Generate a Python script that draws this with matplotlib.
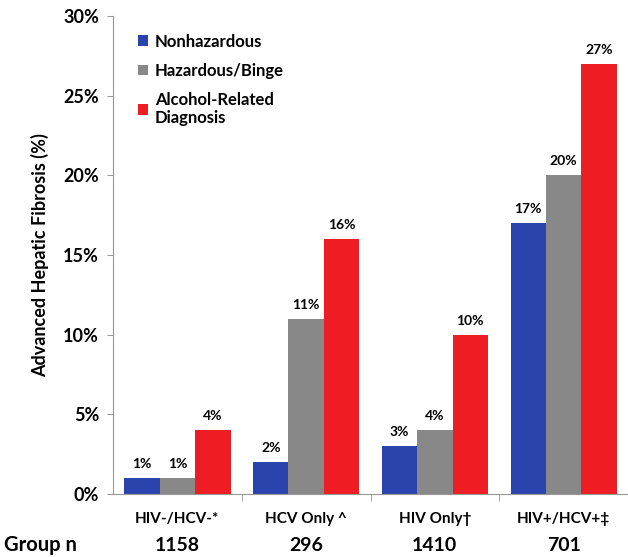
import matplotlib.pyplot as plt
import numpy as np

groups = ['HIV-/HCV-*', 'HCV Only ^', 'HIV Only\u2020', 'HIV+/HCV+\u2021']
group_n = ['1158', '296', '1410', '701']
series = ['Nonhazardous', 'Hazardous/Binge', 'Alcohol-Related\nDiagnosis']
nonhazardous = [1, 2, 3, 17]
hazardous = [1, 11, 4, 20]
alcohol_dx = [4, 16, 10, 27]
colors = ['#2b44ad', '#888888', '#ee1d24']

plt.rcParams['font.family'] = ['Lato', 'DejaVu Sans']
plt.rcParams['font.weight'] = 'bold'

fig = plt.figure(figsize=(6.28, 5.57), dpi=100)
ax = fig.add_axes([0.180, 0.113, 0.820, 0.858])

x = np.arange(len(groups))
w = 0.275
for i, (vals, name) in enumerate(zip([nonhazardous, hazardous, alcohol_dx], series)):
    bars = ax.bar(x + (i - 1) * w, vals, w, color=colors[i], label=name)
    for b, v in zip(bars, vals):
        ax.text(b.get_x() + b.get_width() / 2, v + 0.5, f'{v}%',
                ha='center', va='bottom', fontsize=10, fontweight='bold')

ax.set_xlim(-0.5, len(groups) - 0.5)
ax.set_ylim(0, 30)
ax.set_yticks(range(0, 31, 5))
ax.set_yticklabels([f'{t}%' for t in range(0, 31, 5)], fontsize=13, fontweight='bold')
ax.set_xticks(x)
ax.set_xticklabels(groups, fontsize=11, fontweight='bold')
ax.tick_params(axis='x', length=0, pad=13)
ax.set_xticks(np.arange(0.5, len(groups) - 0.5), minor=True)
ax.tick_params(axis='x', which='minor', length=5, color='#999999')
ax.tick_params(axis='y', length=4, color='#999999', pad=6)
for s in ['top', 'right']:
    ax.spines[s].set_visible(False)
ax.spines['left'].set_color('#999999')
ax.spines['bottom'].set_color('#999999')
ax.set_ylabel('Advanced Hepatic Fibrosis (%)', fontsize=13, fontweight='bold', labelpad=10)

for xi, n in zip(x, group_n):
    ax.text(xi, -3.2, n, ha='center', va='center', fontsize=14, fontweight='bold',
            transform=ax.transData, clip_on=False)
fig.text(0.006, 0.022, 'Group n', ha='left', va='center', fontsize=14.5, fontweight='bold')

leg = ax.legend(loc='upper left', bbox_to_anchor=(0.02, 0.995), frameon=False, fontsize=12,
                handlelength=0.6, handleheight=0.6, handletextpad=0.4, labelspacing=0.8)
for t in leg.get_texts():
    t.set_linespacing(1.1)

fig.savefig('out.png', dpi=100)
